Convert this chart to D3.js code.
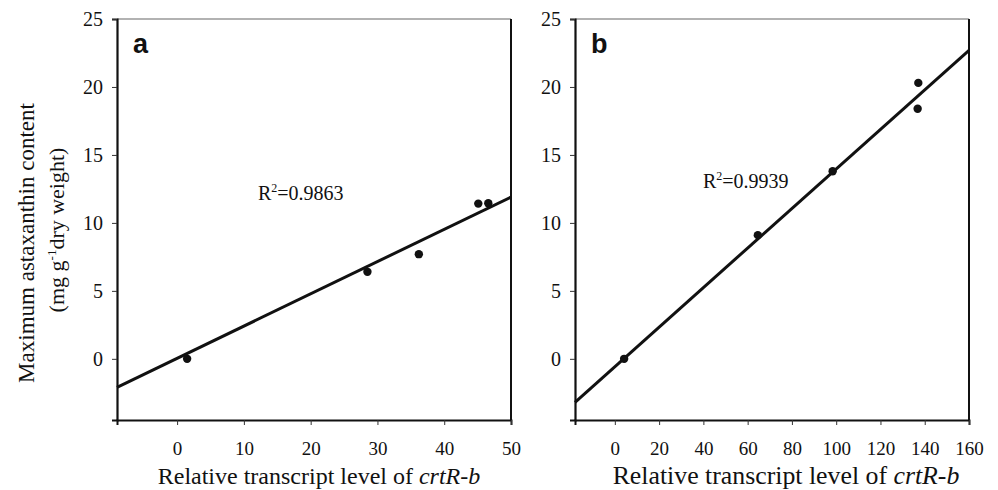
<!DOCTYPE html>
<html>
<head>
<meta charset="utf-8">
<script src="https://d3js.org/d3.v7.min.js"></script>
<style>
  body { margin: 0; background: #fff; }
  text { font-family: "Liberation Serif", "Times New Roman", serif; fill: #111; }
</style>
</head>
<body>
<div id="chart"></div>
<script>
    // panel a data
    let xA = [1.5, 28.5, 36.2, 45.1, 46.6];
    let yA = [0, 6.4, 7.7, 11.42, 11.45];
    let fitAx = [-9, 50], fitAy = [-2.1, 11.9];
    let ticksA = [0, 10, 20, 30, 40, 50];

    // panel b data
    let xB = [4.2, 64.6, 98.4, 137.1, 136.8];
    let yB = [0, 9.1, 13.8, 20.3, 18.4];
    let fitBx = [-18, 160], fitBy = [-3.2, 22.7];
    let ticksB = [0, 20, 40, 60, 80, 100, 120, 140, 160];

    let yTicks = [0, 5, 10, 15, 20, 25];

    let W = 998, H = 490;
    let plotTop = 19, plotBottom = 420;
    let serif = "'Liberation Serif', 'Times New Roman', serif";

    var svg = d3.select("#chart").append("svg")
        .attr("width", W).attr("height", H);

    var yScale = d3.scaleLinear().domain([-4.5, 25]).range([plotBottom, plotTop]);

    function panel(left, right, xDomain, xTicks, xs, ys, fx, fy, letter, r2, r2x, r2y, titleX, titleSize) {
        var xScale = d3.scaleLinear().domain(xDomain).range([left, right]);
        var g = svg.append("g");

        // frame
        g.append("line").attr("x1", left).attr("x2", right).attr("y1", plotTop).attr("y2", plotTop)
            .attr("stroke", "#666").attr("stroke-width", 1.2);
        g.append("line").attr("x1", right).attr("x2", right).attr("y1", plotTop).attr("y2", plotBottom)
            .attr("stroke", "#111").attr("stroke-width", 2);

        // y axis
        var ya = g.append("g").attr("transform", "translate(" + left + ",0)")
            .call(d3.axisLeft(yScale).tickValues(yTicks).tickSize(5).tickPadding(9));
        ya.attr("font-family", serif).attr("font-size", 20);
        ya.select(".domain").attr("stroke", "#111").attr("stroke-width", 2.2);
        ya.selectAll(".tick line").attr("stroke", "#333");

        // x axis
        var xa = g.append("g").attr("transform", "translate(0," + plotBottom + ")")
            .call(d3.axisBottom(xScale).tickValues(xTicks).tickSize(5).tickPadding(17));
        xa.attr("font-family", serif).attr("font-size", 19);
        xa.select(".domain").attr("stroke", "#111").attr("stroke-width", 2);
        xa.selectAll(".tick line").attr("stroke", "#333");

        // fit line
        g.append("line")
            .attr("x1", xScale(fx[0])).attr("y1", yScale(fy[0]))
            .attr("x2", xScale(fx[1])).attr("y2", yScale(fy[1]))
            .attr("stroke", "#111").attr("stroke-width", 3);

        // points
        g.selectAll("circle").data(xs).enter().append("circle")
            .attr("cx", function(d) { return xScale(d); })
            .attr("cy", function(d, i) { return yScale(ys[i]); })
            .attr("r", 4.2)
            .attr("fill", "#111");

        // panel letter
        g.append("text").attr("x", left + 16).attr("y", 53)
            .style("font-family", "'Liberation Sans', Arial, sans-serif")
            .style("font-weight", "bold").style("font-size", "27px")
            .text(letter);

        // R^2
        var t = g.append("text").attr("x", r2x).attr("y", r2y).style("font-size", "20px");
        t.append("tspan").text("R");
        t.append("tspan").attr("dy", -8).style("font-size", "12px").text("2");
        t.append("tspan").attr("dy", 8).text("=" + r2);

        // x title
        var xt = g.append("text").attr("x", titleX).attr("y", 484)
            .attr("text-anchor", "middle").style("font-size", titleSize + "px");
        xt.append("tspan").text("Relative transcript level of ");
        xt.append("tspan").style("font-style", "italic").text("crtR-b");
    }

    panel(117, 511, [-9, 50], ticksA, xA, yA, fitAx, fitAy, "a", "0.9863", 258, 200, 319, 24);
    panel(575, 969, [-18, 160], ticksB, xB, yB, fitBx, fitBy, "b", "0.9939", 703, 188, 786, 25.8);

    // y axis title
    svg.append("text")
        .attr("transform", "translate(34,243) rotate(-90)")
        .attr("text-anchor", "middle").style("font-size", "23px")
        .text("Maximum astaxanthin content");
    var yt2 = svg.append("text")
        .attr("transform", "translate(64,230) rotate(-90)")
        .attr("text-anchor", "middle").style("font-size", "22px");
    yt2.append("tspan").text("(mg g");
    yt2.append("tspan").attr("dy", -8).style("font-size", "13px").text("-1");
    yt2.append("tspan").attr("dy", 8).text("dry weight)");
</script>
</body>
</html>
